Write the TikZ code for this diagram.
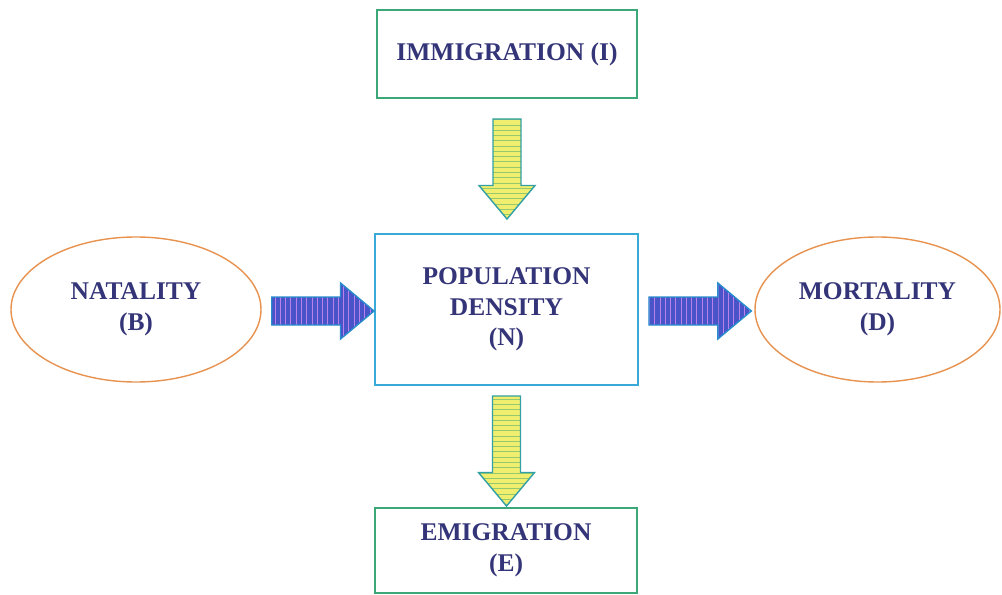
\documentclass[tikz,border=0pt]{standalone}
\usepackage{fontspec}
\setmainfont{Liberation Serif}
\usetikzlibrary{positioning,calc,patterns,shapes.geometric}

\definecolor{txtblue}{RGB}{52,52,120}
\definecolor{boxgreen}{RGB}{60,168,120}
\definecolor{boxcyan}{RGB}{56,170,215}
\definecolor{ovalorange}{RGB}{232,146,80}
\definecolor{arrblue}{RGB}{72,84,200}
\definecolor{arrpink}{RGB}{185,130,235}
\definecolor{arredge}{RGB}{40,140,205}
\definecolor{arryellow}{RGB}{240,238,110}
\definecolor{arrgreen}{RGB}{150,200,110}
\definecolor{arrteal}{RGB}{50,160,165}

% fat arrows between two points (shaft half width, head half width, head length)
\def\shaftw{0.28cm}
\def\headw{0.56cm}
\def\headl{0.67cm}
\newcommand{\downarr}[3]{%
  \path[#1] let \p1=(#2), \p2=(#3) in
    (\x1-\shaftw,\y1) -- (\x1+\shaftw,\y1) -- (\x1+\shaftw,\y2+\headl) -- (\x1+\headw,\y2+\headl)
    -- (\x1,\y2) -- (\x1-\headw,\y2+\headl) -- (\x1-\shaftw,\y2+\headl) -- cycle;}
\newcommand{\rightarr}[3]{%
  \path[#1] let \p1=(#2), \p2=(#3) in
    (\x1,\y1-\shaftw) -- (\x2-\headl,\y1-\shaftw) -- (\x2-\headl,\y1-\headw) -- (\x2,\y1)
    -- (\x2-\headl,\y1+\headw) -- (\x2-\headl,\y1+\shaftw) -- (\x1,\y1+\shaftw) -- cycle;}

\begin{document}
\begin{tikzpicture}[
    every node/.style={font=\fontsize{14.5}{17.5}\selectfont\bfseries, text=txtblue, align=center},
    flowbox/.style={draw=boxgreen, line width=1.1pt, minimum width=5.2cm, inner sep=0pt},
    densbox/.style={draw=boxcyan, line width=1.1pt, minimum width=5.26cm, minimum height=3.02cm},
    oval/.style={ellipse, draw=ovalorange, line width=0.8pt, minimum width=5.0cm, minimum height=2.9cm},
    harrow/.style={draw=arredge, line width=0.8pt, preaction={fill=arrblue}, pattern=vertical lines, pattern color=arrpink},
    varrow/.style={draw=arrteal, line width=0.8pt, preaction={fill=arryellow}, pattern=horizontal lines, pattern color=arrgreen}]
  \useasboundingbox (0,0) rectangle (20.04,-11.9);

  \node[flowbox, minimum height=1.76cm] (imm) at (10.14,-1.08) {IMMIGRATION (I)};
  \node[densbox] (dens) at (10.13,-6.19) {POPULATION\\DENSITY\\(N)};
  \node[oval] (nat) at (2.72,-6.19) {NATALITY\\(B)};
  \node[oval, minimum width=4.9cm] (mort) at (17.55,-6.19) {MORTALITY\\(D)};
  \node[flowbox, minimum width=5.24cm, minimum height=1.7cm] (emi) at (10.12,-11.01) {EMIGRATION\\(E)};

  \downarr{varrow}{$(imm.south)+(0,-0.4)$}{$(dens.north)+(0,0.28)$}
  \downarr{varrow}{$(dens.south)+(0,-0.2)$}{$(emi.north)+(0,0.02)$}
  \rightarr{harrow}{$(nat.east)+(0.2,-0.03)$}{dens.west}
  \rightarr{harrow}{$(dens.east)+(0.2,-0.03)$}{$(mort.west)+(-0.06,0)$}
\end{tikzpicture}
\end{document}
